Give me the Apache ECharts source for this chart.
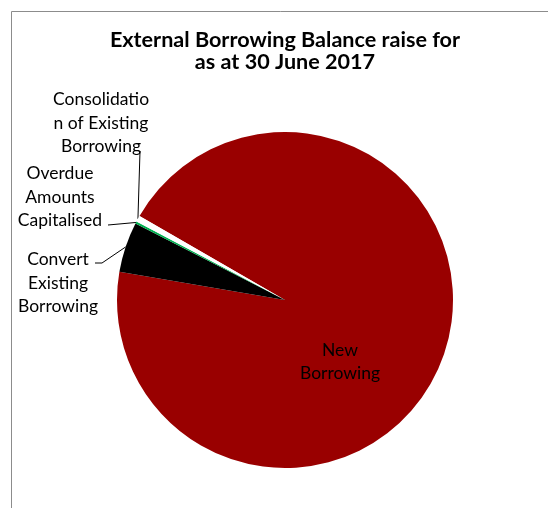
<!DOCTYPE html>
<html>
<head>
<meta charset="utf-8">
<script src="https://cdn.jsdelivr.net/npm/echarts@6/dist/echarts.min.js"></script>
<style>
  html, body { margin: 0; padding: 0; background: #ffffff; }
  #chart { width: 548px; height: 508px; }
</style>
</head>
<body>
<div id="chart"></div>
<script>
// Slice categories and their share of the external borrowing balance (%)
const categories = [
  'New Borrowing',
  'Convert Existing Borrowing',
  'Overdue Amounts Capitalised',
  'Consolidation of Existing Borrowing'
];
const shares = [94.35, 4.85, 0.2, 0.6];

// Label text as it is wrapped on the chart
const labelTexts = [
  'New\nBorrowing',
  'Convert\nExisting\nBorrowing',
  'Overdue\nAmounts\nCapitalised',
  'Consolidatio\nn of Existing\nBorrowing'
];

const sliceColors = ['#990000', '#000000', '#00b050', '#ffffff'];

// Label centres, plus leader-line bends given relative to each label centre
const labelSpots = [
  { x: 340, y: 362 },
  { x: 58, y: 283, tail: [[44, -20], [37, -20]] },
  { x: 60, y: 197, tail: [[48, 28]] },
  { x: 101, y: 123, tail: [[39, 28]] }
];

const FONT = 'Lato';

const chart = echarts.init(document.getElementById('chart'), null, { renderer: 'canvas' });

const pieData = categories.map(function (name, i) {
  const item = {
    name: name,
    value: shares[i],
    itemStyle: { color: sliceColors[i] }
  };
  if (i === 0) {
    item.label = { position: 'inside' };
    item.labelLine = { show: false };
  }
  return item;
});

chart.setOption({
  animation: false,
  backgroundColor: '#ffffff',
  title: {
    text: 'External Borrowing Balance raise for\nas at 30 June 2017',
    left: 285,
    top: 29,
    textAlign: 'center',
    padding: 0,
    textStyle: {
      fontFamily: FONT,
      fontWeight: 'bold',
      fontSize: 21.6,
      lineHeight: 22,
      color: '#000000'
    }
  },
  graphic: [
    {
      type: 'rect',
      silent: true,
      shape: { x: 11.5, y: 11.5, width: 1000, height: 1000 },
      style: { fill: 'none', stroke: '#8c8c8c', lineWidth: 1 }
    }
  ],
  series: [
    {
      type: 'pie',
      center: [285, 300],
      radius: 168,
      startAngle: 150,
      clockwise: true,
      avoidLabelOverlap: false,
      emphasis: { disabled: true },
      itemStyle: { borderWidth: 0 },
      label: {
        show: true,
        position: 'outside',
        formatter: function (p) { return labelTexts[p.dataIndex]; },
        fontFamily: FONT,
        fontSize: 17.5,
        lineHeight: 23.5,
        color: '#000000',
        align: 'center'
      },
      labelLine: {
        show: true,
        length: 10,
        length2: 10,
        lineStyle: { color: '#000000', width: 1 }
      },
      labelLayout: function (p) {
        const s = labelSpots[p.dataIndex];
        const out = { x: s.x, y: s.y, align: 'center', verticalAlign: 'middle' };
        if (s.tail && p.labelLinePoints) {
          out.labelLinePoints = [p.labelLinePoints[0]].concat(
            s.tail.map(function (t) { return [s.x + t[0], s.y + t[1]]; })
          );
        }
        return out;
      },
      data: pieData
    }
  ]
});
</script>
</body>
</html>
